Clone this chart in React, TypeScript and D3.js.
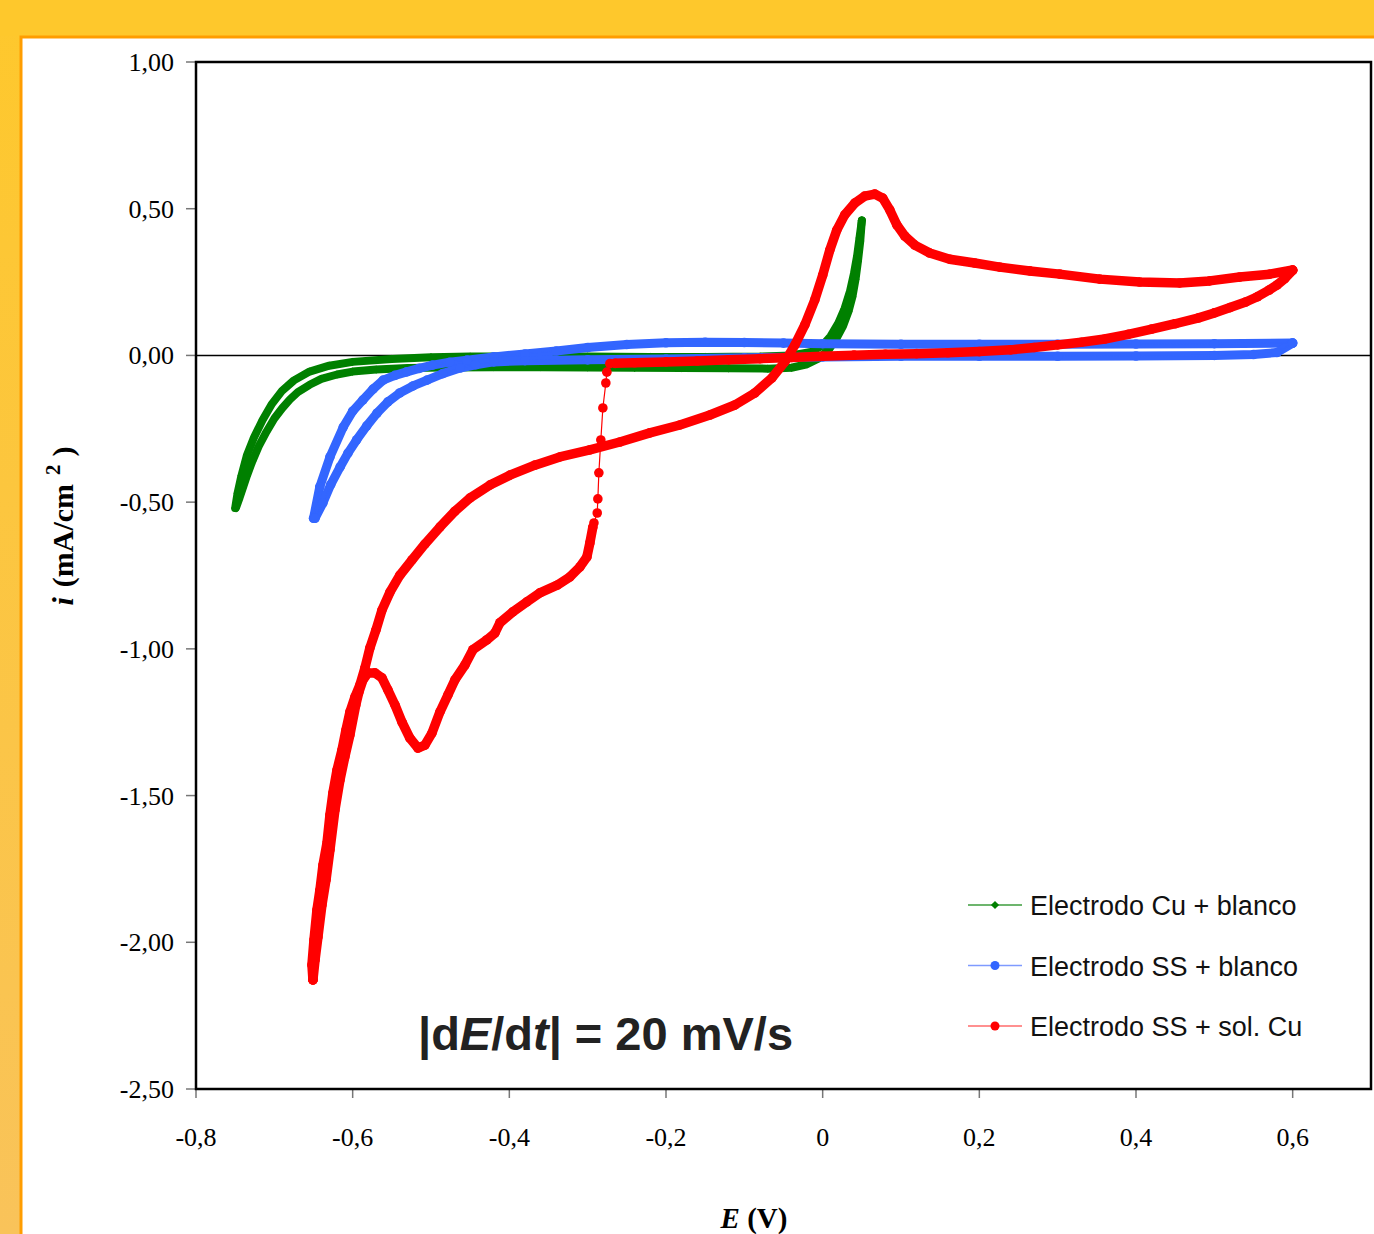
import React, { useEffect, useRef } from 'react';
import * as d3 from 'd3';

// axis ticks
const xTicks = [-0.8, -0.6, -0.4, -0.2, 0, 0.2, 0.4, 0.6];
const yTicks = [1, 0.5, 0, -0.5, -1, -1.5, -2, -2.5];

// E (V), i (mA/cm2) pairs
const greenForward = [
  [-0.749, -0.52], [-0.745, -0.49], [-0.74, -0.45], [-0.735, -0.41], [-0.728, -0.36], [-0.72, -0.31],
  [-0.71, -0.26], [-0.7, -0.215], [-0.69, -0.18], [-0.68, -0.15], [-0.67, -0.125], [-0.655, -0.1],
  [-0.64, -0.08], [-0.62, -0.065], [-0.6, -0.055], [-0.57, -0.048], [-0.53, -0.043], [-0.48, -0.041],
  [-0.42, -0.04], [-0.36, -0.04], [-0.3, -0.041], [-0.24, -0.042], [-0.18, -0.043], [-0.12, -0.044],
  [-0.07, -0.045], [-0.04, -0.042], [-0.02, -0.03], [-0.005, -0.01], [0.008, 0.02], [0.018, 0.06],
  [0.026, 0.1], [0.033, 0.15], [0.038, 0.2], [0.042, 0.26], [0.045, 0.32], [0.048, 0.39], [0.05, 0.46],
];
const greenReverse = [
  [0.05, 0.46], [0.047, 0.4], [0.044, 0.34], [0.04, 0.28], [0.035, 0.22], [0.028, 0.16], [0.02, 0.11],
  [0.01, 0.065], [0.0, 0.035], [-0.015, 0.012], [-0.04, 0.0], [-0.08, -0.004], [-0.15, -0.005],
  [-0.22, -0.005], [-0.3, -0.004], [-0.38, -0.003], [-0.45, -0.004], [-0.5, -0.006], [-0.55, -0.012],
  [-0.6, -0.022], [-0.63, -0.035], [-0.655, -0.055], [-0.675, -0.085], [-0.69, -0.12], [-0.703, -0.165],
  [-0.715, -0.22], [-0.726, -0.28], [-0.735, -0.34], [-0.742, -0.41], [-0.747, -0.47], [-0.75, -0.52],
];

const blueForward = [
  [-0.65, -0.555], [-0.642, -0.448], [-0.629, -0.346], [-0.612, -0.244], [-0.6, -0.19], [-0.587, -0.152],
  [-0.574, -0.115], [-0.561, -0.084], [-0.546, -0.068], [-0.531, -0.056], [-0.515, -0.044], [-0.498, -0.033],
  [-0.476, -0.023], [-0.454, -0.016], [-0.42, -0.005], [-0.38, 0.005], [-0.34, 0.015], [-0.3, 0.027],
  [-0.25, 0.037], [-0.2, 0.043], [-0.15, 0.045], [-0.1, 0.044], [-0.05, 0.042], [0.0, 0.04], [0.1, 0.038],
  [0.2, 0.038], [0.3, 0.038], [0.4, 0.039], [0.5, 0.04], [0.6, 0.042],
];
const blueReverse = [
  [0.6, 0.042], [0.58, 0.01], [0.55, 0.003], [0.5, 0.0], [0.4, -0.002], [0.3, -0.003], [0.2, -0.003],
  [0.1, -0.003], [0.0, -0.005], [-0.1, -0.008], [-0.2, -0.012], [-0.3, -0.015], [-0.38, -0.018],
  [-0.42, -0.022], [-0.443, -0.032], [-0.463, -0.043], [-0.485, -0.062], [-0.505, -0.084], [-0.523, -0.104],
  [-0.54, -0.128], [-0.555, -0.158], [-0.569, -0.197], [-0.582, -0.24], [-0.595, -0.288], [-0.606, -0.333],
  [-0.616, -0.38], [-0.628, -0.44], [-0.638, -0.503], [-0.648, -0.555],
];

const redReturn = [
  [0.6, 0.29], [0.59, 0.262], [0.58, 0.24], [0.57, 0.223], [0.555, 0.2], [0.54, 0.182], [0.52, 0.163],
  [0.5, 0.145], [0.48, 0.128], [0.45, 0.108], [0.42, 0.09], [0.39, 0.072], [0.36, 0.056], [0.33, 0.045],
  [0.3, 0.036], [0.27, 0.027], [0.24, 0.019], [0.2, 0.013], [0.16, 0.009], [0.12, 0.006], [0.08, 0.004],
  [0.04, 0.001], [0.0, -0.003], [-0.04, -0.007], [-0.08, -0.011], [-0.12, -0.015], [-0.16, -0.019],
  [-0.2, -0.022], [-0.24, -0.025], [-0.265, -0.027],
];
const redJump = [
  [-0.2717, -0.028], [-0.2755, -0.057], [-0.2768, -0.094], [-0.2806, -0.179], [-0.2832, -0.288],
  [-0.2857, -0.4], [-0.287, -0.489], [-0.2878, -0.537], [-0.292, -0.571],
];
const redCathodic = [
  [-0.2934, -0.585], [-0.2972, -0.639], [-0.301, -0.687], [-0.31, -0.721], [-0.3227, -0.755],
  [-0.339, -0.783], [-0.361, -0.809], [-0.3776, -0.84], [-0.3955, -0.874], [-0.412, -0.911],
  [-0.4184, -0.946], [-0.4286, -0.969], [-0.4465, -1.003], [-0.4567, -1.055], [-0.4695, -1.106],
  [-0.4784, -1.157], [-0.4886, -1.215], [-0.4988, -1.287], [-0.5078, -1.328], [-0.5167, -1.338],
  [-0.527, -1.304], [-0.537, -1.25], [-0.546, -1.191], [-0.555, -1.14], [-0.5626, -1.099],
  [-0.5716, -1.082], [-0.5805, -1.082], [-0.5869, -1.106], [-0.592, -1.147], [-0.596, -1.191],
  [-0.6035, -1.293], [-0.61, -1.368], [-0.6162, -1.447], [-0.6226, -1.549], [-0.629, -1.685],
  [-0.634, -1.787], [-0.6392, -1.873], [-0.6443, -1.982], [-0.648, -2.06], [-0.6507, -2.128],
];
const redAnodic = [
  [-0.6507, -2.128], [-0.652, -2.077], [-0.6494, -1.992], [-0.6456, -1.89], [-0.6418, -1.822],
  [-0.6379, -1.737], [-0.6328, -1.662], [-0.629, -1.566], [-0.6252, -1.491], [-0.62, -1.413],
  [-0.6137, -1.345], [-0.6086, -1.277], [-0.6035, -1.215], [-0.5971, -1.164], [-0.5907, -1.123],
  [-0.5843, -1.065], [-0.578, -0.997], [-0.5703, -0.936], [-0.5626, -0.868], [-0.5524, -0.807],
  [-0.5397, -0.749], [-0.5243, -0.697], [-0.5078, -0.643], [-0.4886, -0.585], [-0.4695, -0.531],
  [-0.4503, -0.486], [-0.4248, -0.442], [-0.3993, -0.408], [-0.3674, -0.374], [-0.3355, -0.346],
  [-0.2972, -0.322], [-0.2589, -0.295], [-0.2206, -0.264], [-0.1823, -0.237], [-0.144, -0.203],
  [-0.1121, -0.169], [-0.0866, -0.128], [-0.0649, -0.077], [-0.0483, -0.022], [-0.0356, 0.035],
  [-0.0228, 0.104], [-0.0101, 0.189], [0.0001, 0.274], [0.0091, 0.359], [0.018, 0.427], [0.0282, 0.479],
  [0.041, 0.519], [0.0537, 0.543], [0.0665, 0.55], [0.0767, 0.536], [0.0857, 0.496], [0.0946, 0.445],
  [0.1048, 0.407], [0.1176, 0.376], [0.1367, 0.349], [0.1622, 0.328], [0.1941, 0.315], [0.226, 0.301],
  [0.2643, 0.288], [0.3026, 0.277], [0.3537, 0.26], [0.4047, 0.25], [0.4557, 0.247], [0.494, 0.254],
  [0.5323, 0.267], [0.5706, 0.277], [0.6, 0.291],
];

const seriesNames = ['Electrodo Cu + blanco', 'Electrodo SS + blanco', 'Electrodo SS + sol. Cu'];

const W = 1374;
const H = 1234;
const margin = { top: 62, right: 3, bottom: 145, left: 196 };

function App() {
  const ref = useRef(null);

  useEffect(() => {
    const svg = d3.select(ref.current);
    svg.selectAll('*').remove();

    const x = d3.scaleLinear().domain([-0.8, 0.7]).range([margin.left, W - margin.right]);
    const y = d3.scaleLinear().domain([-2.5, 1]).range([H - margin.bottom, margin.top]);

    // spanish style numbers: comma decimal, plain hyphen for minus
    const fix = (s) => s.replace('.', ',').replace('\u2212', '-');
    const fx = (v) => (v === 0 ? '0' : fix(d3.format('.1f')(v)));
    const fy = (v) => fix(d3.format('.2f')(v));

    // background + panel
    const defs = svg.append('defs');
    const grad = defs.append('linearGradient').attr('id', 'bg').attr('x1', 0).attr('y1', 0).attr('x2', 0).attr('y2', 1);
    grad.append('stop').attr('offset', '0%').attr('stop-color', '#fec82c');
    grad.append('stop').attr('offset', '100%').attr('stop-color', '#f9c35a');
    svg.append('rect').attr('width', W).attr('height', H).attr('fill', 'url(#bg)');
    svg.append('rect').attr('x', 0).attr('width', W).attr('height', 36).attr('fill', '#fec82c');
    svg.append('rect')
      .attr('x', 21).attr('y', 37).attr('width', W + 20).attr('height', H + 20)
      .attr('fill', '#fff').attr('stroke', '#ff9d00').attr('stroke-width', 3);

    const plot = svg.append('g');

    // ticks
    plot.append('g').selectAll('line').data(yTicks).join('line')
      .attr('x1', margin.left - 10).attr('x2', margin.left)
      .attr('y1', d => y(d)).attr('y2', d => y(d))
      .attr('stroke', '#777').attr('stroke-width', 1.5);
    plot.append('g').selectAll('line').data(xTicks).join('line')
      .attr('x1', d => x(d)).attr('x2', d => x(d))
      .attr('y1', y(-2.5)).attr('y2', y(-2.5) + 9)
      .attr('stroke', '#777').attr('stroke-width', 1.5);

    plot.append('g').selectAll('text').data(yTicks).join('text')
      .attr('x', margin.left - 22).attr('y', d => y(d) + 9)
      .attr('text-anchor', 'end')
      .attr('font-family', '"Liberation Serif", serif').attr('font-size', 26)
      .text(fy);
    plot.append('g').selectAll('text').data(xTicks).join('text')
      .attr('x', d => x(d)).attr('y', y(-2.5) + 57)
      .attr('text-anchor', 'middle')
      .attr('font-family', '"Liberation Serif", serif').attr('font-size', 26)
      .text(fx);

    // frame and zero line
    plot.append('rect')
      .attr('x', x(-0.8)).attr('y', y(1))
      .attr('width', x(0.7) - x(-0.8)).attr('height', y(-2.5) - y(1))
      .attr('fill', 'none').attr('stroke', '#000').attr('stroke-width', 2.5);
    plot.append('line')
      .attr('x1', x(-0.8)).attr('x2', x(0.7)).attr('y1', y(0)).attr('y2', y(0))
      .attr('stroke', '#000').attr('stroke-width', 1.5);

    const line = d3.line().x(d => x(d[0])).y(d => y(d[1]));
    const diamond = d3.symbol(d3.symbolSquare, 34);

    const series = [
      { name: seriesNames[0], color: '#008000', legend: '#3d9c3d', marker: 'diamond', band: 8, parts: [[greenForward, true], [greenReverse, true]] },
      { name: seriesNames[1], color: '#3366ff', legend: '#7f9bff', marker: 'circle', band: 9, parts: [[blueForward, true], [blueReverse, true]] },
      { name: seriesNames[2], color: '#ff0000', legend: '#ff6b6b', marker: 'circle', band: 9.5, parts: [[redReturn, true], [redJump, false], [redCathodic, true], [redAnodic, true]] },
    ];

    const clip = defs.append('clipPath').attr('id', 'plotclip');
    clip.append('rect').attr('x', x(-0.8)).attr('y', y(1)).attr('width', x(0.7) - x(-0.8)).attr('height', y(-2.5) - y(1));
    const marks = plot.append('g').attr('clip-path', 'url(#plotclip)');

    series.forEach(s => {
      const g = marks.append('g');
      const all = s.parts.flatMap(p => p[0]);
      s.parts.filter(p => p[1]).forEach(p => {
        g.append('path').attr('d', line(p[0]))
          .attr('fill', 'none').attr('stroke', s.color)
          .attr('stroke-width', s.band).attr('stroke-linejoin', 'round').attr('stroke-linecap', 'round');
      });
      g.append('path').attr('d', line(all))
        .attr('fill', 'none').attr('stroke', s.color).attr('stroke-width', 1.2);
      if (s.marker === 'circle') {
        g.selectAll('circle').data(all).join('circle')
          .attr('cx', d => x(d[0])).attr('cy', d => y(d[1])).attr('r', 4.8)
          .attr('fill', s.color);
      } else {
        g.selectAll('path.m').data(all).join('path').attr('class', 'm')
          .attr('d', diamond)
          .attr('transform', d => `translate(${x(d[0])},${y(d[1])}) rotate(45)`)
          .attr('fill', s.color);
      }
    });

    // legend
    const lg = plot.append('g');
    series.forEach((s, i) => {
      const ly = 905 + i * 60.5;
      lg.append('line').attr('x1', 968).attr('x2', 1022).attr('y1', ly).attr('y2', ly)
        .attr('stroke', s.legend).attr('stroke-width', 1.5);
      if (s.marker === 'circle') {
        lg.append('circle').attr('cx', 995).attr('cy', ly).attr('r', 4.5).attr('fill', s.color);
      } else {
        lg.append('path').attr('d', diamond).attr('transform', `translate(995,${ly}) rotate(45)`).attr('fill', s.color);
      }
      lg.append('text').attr('x', 1030).attr('y', ly + 10)
        .attr('font-family', '"Liberation Sans", Arial, sans-serif').attr('font-size', 27)
        .attr('fill', '#111').text(s.name);
    });

    // sweep rate note
    const note = plot.append('text').attr('x', 418).attr('y', 1050)
      .attr('font-family', '"Liberation Sans", Arial, sans-serif').attr('font-weight', 'bold')
      .attr('font-size', 47).attr('fill', '#222');
    note.append('tspan').text('|d');
    note.append('tspan').attr('font-style', 'italic').text('E');
    note.append('tspan').text('/d');
    note.append('tspan').attr('font-style', 'italic').text('t');
    note.append('tspan').text('| = 20 mV/s');

    // axis titles
    const xt = svg.append('text').attr('x', 754).attr('y', 1228).attr('text-anchor', 'middle')
      .attr('font-family', '"Liberation Serif", serif').attr('font-weight', 'bold').attr('font-size', 29);
    xt.append('tspan').attr('font-style', 'italic').text('E');
    xt.append('tspan').text(' (V)');

    const yt = svg.append('text').attr('transform', 'translate(73,526) rotate(-90)').attr('text-anchor', 'middle')
      .attr('font-family', '"Liberation Serif", serif').attr('font-weight', 'bold').attr('font-size', 30);
    yt.append('tspan').attr('font-style', 'italic').text('i');
    yt.append('tspan').attr('dx', 10).text('(mA/cm');
    yt.append('tspan').attr('dx', 9).attr('dy', -13).attr('font-size', 21).text('2');
    yt.append('tspan').attr('dx', 8).attr('dy', 13).text(')');
  }, []);

  return (
    <svg ref={ref} width={W} height={H} style={{ position: 'absolute', left: 0, top: 0, display: 'block' }} />
  );
}

export default App;
